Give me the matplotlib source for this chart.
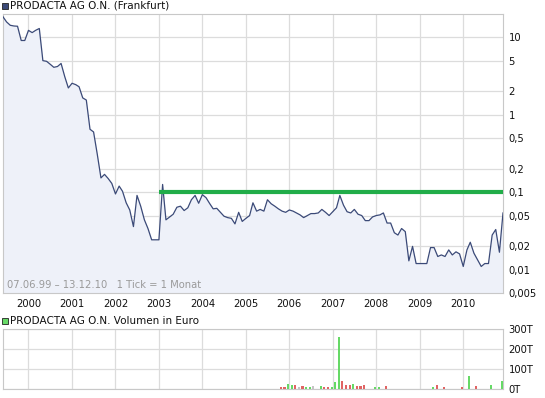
import matplotlib
matplotlib.use("Agg")
import matplotlib.pyplot as plt
import matplotlib.dates as mdates
from matplotlib.patches import Rectangle
import pandas as pd

# monthly prices (1 Tick = 1 Monat), Jun 1999 - Dec 2010
prices = [
    18.4, 15.8, 14.3, 14.0, 13.9, 9.1, 9.1, 12.3, 11.5, 12.3, 13.0, 5.0,
    4.9, 4.5, 4.1, 4.2, 4.6, 3.1, 2.22, 2.55, 2.45, 2.3, 1.65, 1.55,
    0.65, 0.6, 0.31, 0.153, 0.17, 0.15, 0.13, 0.095, 0.12, 0.103, 0.073, 0.059,
    0.036, 0.091, 0.066, 0.044, 0.034, 0.0243, 0.0243, 0.0243, 0.126, 0.044, 0.048, 0.052,
    0.064, 0.066, 0.058, 0.063, 0.080, 0.091, 0.072, 0.093, 0.085, 0.072, 0.061, 0.062,
    0.055, 0.049, 0.047, 0.046, 0.039, 0.055, 0.042, 0.046, 0.050, 0.073, 0.057, 0.060,
    0.057, 0.080, 0.071, 0.066, 0.061, 0.057, 0.055, 0.059, 0.057, 0.054, 0.051, 0.047,
    0.050, 0.053, 0.053, 0.054, 0.060, 0.055, 0.050, 0.056, 0.063, 0.091, 0.068, 0.056,
    0.054, 0.060, 0.052, 0.050, 0.043, 0.043, 0.048, 0.050, 0.051, 0.054, 0.040, 0.040,
    0.030, 0.028, 0.034, 0.031, 0.013, 0.020, 0.012, 0.012, 0.012, 0.012, 0.0193, 0.0193,
    0.0148, 0.0155, 0.0148, 0.018, 0.0155, 0.017, 0.016, 0.011, 0.018, 0.0226, 0.0163, 0.0134,
    0.011, 0.012, 0.012, 0.028, 0.033, 0.0168, 0.054,
]
months = pd.date_range("1999-06-01", periods=len(prices), freq="MS")

# monthly volume in Euro (months with trades only)
vol_months = [
    "2005-11", "2005-12", "2006-01", "2006-02", "2006-03", "2006-04", "2006-05",
    "2006-06", "2006-07", "2006-08", "2006-10", "2006-11", "2006-12", "2007-01",
    "2007-02", "2007-03", "2007-04", "2007-05", "2007-06", "2007-07", "2007-08",
    "2007-09", "2007-10", "2008-01", "2008-02", "2008-04", "2009-05", "2009-06",
    "2009-08", "2010-01", "2010-03", "2010-05", "2010-09", "2010-12",
]
vol_values = [
    8000, 12000, 27000, 18000, 22000, 8000, 13000,
    8000, 8000, 13000, 13000, 8000, 8000, 8000,
    33000, 258000, 38000, 18000, 18000, 27000, 13000,
    13000, 18000, 8000, 8000, 13000, 8000, 18000,
    8000, 8000, 63000, 13000, 18000, 38000,
]
# up / down / unchanged
vol_dir = [
    "d", "d", "u", "u", "d", "n", "d",
    "u", "u", "n", "u", "d", "d", "u",
    "u", "u", "d", "d", "d", "u", "d",
    "d", "d", "u", "u", "d", "u", "d",
    "d", "d", "u", "d", "u", "u",
]

limit_level = 0.1
limit_start = "2003-01-01"

ytick_vals = [10, 5, 2, 1, 0.5, 0.2, 0.1, 0.05, 0.02, 0.01, 0.005]
ytick_labels = ["10", "5", "2", "1", "0,5", "0,2", "0,1", "0,05", "0,02", "0,01", "0,005"]
vtick_vals = [0, 100000, 200000, 300000]
vtick_labels = ["0T", "100T", "200T", "300T"]

line_col = "#3b4a78"
fill_col = "#eef1f9"
grid_col = "#dcdcdc"
dir_cols = {"u": "#66d966", "d": "#e06464", "n": "#c4c4c4"}

W, H = 545, 398
fig = plt.figure(figsize=(W / 100, H / 100), dpi=100)
plt.rcParams["font.family"] = "DejaVu Sans"


def box(x0, y0, x1, y1):
    # pixel box (top-left origin) -> figure fraction rect
    return [x0 / W, 1 - y1 / H, (x1 - x0) / W, (y1 - y0) / H]


ax = fig.add_axes(box(3, 14, 503, 293))
vax = fig.add_axes(box(3, 329, 503, 389))

xmin, xmax = months[0], months[-1]

# price chart
ax.fill_between(months, prices, 0.005, color=fill_col, lw=0, zorder=1)
ax.plot(months, prices, color=line_col, lw=0.9, zorder=3)
ax.hlines(limit_level, pd.Timestamp(limit_start), xmax, color="#21ad49", lw=3, zorder=4)
ax.set_yscale("log")
ax.set_ylim(0.005, 20)
ax.set_xlim(xmin, xmax)
ax.yaxis.tick_right()
ax.set_yticks(ytick_vals)
ax.set_yticklabels(ytick_labels)
ax.minorticks_off()
ax.xaxis.set_major_locator(mdates.YearLocator())
ax.xaxis.set_major_formatter(mdates.DateFormatter("%Y"))
ax.tick_params(length=0, labelsize=7.2, colors="#111111")
ax.tick_params(axis="y", pad=4)
ax.tick_params(axis="x", pad=4)
ax.grid(True, color=grid_col, lw=0.9, zorder=0)
ax.set_axisbelow(True)
for s in ax.spines.values():
    s.set_color("#c8c8c8")
    s.set_linewidth(0.8)
ax.text(0.008, 0.012, "07.06.99 \u2013 13.12.10   1 Tick = 1 Monat", transform=ax.transAxes,
        fontsize=7.2, color="#9a9a9a", ha="left", va="bottom", zorder=5)

# volume chart
vdates = [pd.Timestamp(m + "-01") - pd.Timedelta(days=10) for m in vol_months]
vax.bar(vdates, vol_values, width=18, color=[dir_cols[d] for d in vol_dir], zorder=3)
vax.set_xlim(xmin, xmax)
vax.set_ylim(0, 300000)
vax.yaxis.tick_right()
vax.set_yticks(vtick_vals)
vax.set_yticklabels(vtick_labels)
vax.xaxis.set_major_locator(mdates.YearLocator())
vax.set_xticklabels([])
vax.tick_params(length=0, labelsize=7.2, colors="#111111")
vax.tick_params(axis="y", pad=4)
vax.grid(True, color=grid_col, lw=0.9, zorder=0)
vax.set_axisbelow(True)
for s in vax.spines.values():
    s.set_color("#c8c8c8")
    s.set_linewidth(0.8)

# legend-like headers
fig.add_artist(Rectangle((2 / W, 1 - 9 / H), 6 / W, 6 / H, transform=fig.transFigure,
                         facecolor="#3b4a78", edgecolor="#222222", lw=0.6))
fig.text(9.5 / W, 1 - 6 / H, "PRODACTA AG O.N. (Frankfurt)", fontsize=7.5, color="#111111",
         ha="left", va="center")
fig.add_artist(Rectangle((2 / W, 1 - 324 / H), 6 / W, 6 / H, transform=fig.transFigure,
                         facecolor="#66d966", edgecolor="#222222", lw=0.6))
fig.text(9.5 / W, 1 - 321 / H, "PRODACTA AG O.N. Volumen in Euro", fontsize=7.5, color="#111111",
         ha="left", va="center")

fig.savefig("out.png", dpi=100)
